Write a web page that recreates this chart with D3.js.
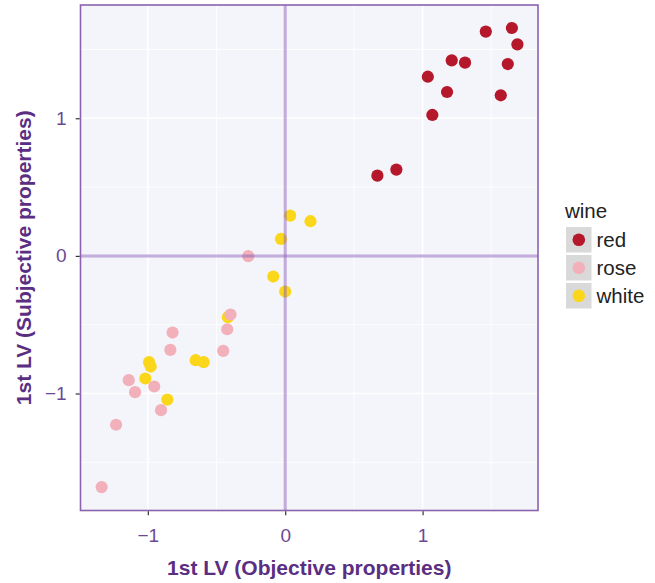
<!DOCTYPE html>
<html><head><meta charset="utf-8">
<script src="https://cdn.jsdelivr.net/npm/d3@7"></script>
<style>body{margin:0;background:#fff}svg{display:block}</style>
</head><body>
<svg id="c" width="655" height="583"></svg>
<script>
const wineTypes = ["red", "rose", "white"];
const wineColors = ["#b5172b", "#f2b0bb", "#fbd71c"];
const redX = [1.46, 1.65, 1.69, 1.212, 1.309, 1.62, 1.038, 1.178, 1.569, 1.071, 0.671, 0.809];
const redY = [1.63, 1.656, 1.537, 1.421, 1.404, 1.394, 1.302, 1.191, 1.167, 1.024, 0.583, 0.627];
const roseX = [-0.269, -0.398, -0.422, -0.820, -0.836, -0.451, -1.139, -0.953, -1.093, -0.904, -1.231, -1.336];
const roseY = [-0.002, -0.426, -0.533, -0.557, -0.683, -0.690, -0.903, -0.949, -0.990, -1.121, -1.227, -1.680];
const whiteX = [0.036, 0.184, -0.031, -0.087, 0.0, -0.417, -0.652, -0.594, -0.991, -0.979, -1.018, -0.858];
const whiteY = [0.293, 0.252, 0.123, -0.150, -0.259, -0.445, -0.758, -0.772, -0.772, -0.804, -0.891, -1.044];
const xTicks = [-1, 0, 1];
const yTicks = [-1, 0, 1];
const xMinor = [-0.5, 0.5, 1.5];
const yMinor = [-1.5, -0.5, 0.5, 1.5];
const xTitle = "1st LV (Objective properties)";
const yTitle = "1st LV (Subjective properties)";
const legendTitle = "wine";

const FONT = "Liberation Sans, Arial, sans-serif";
const svg = d3.select("#c");
const L = 80.5, R = 538, T = 5, B = 510.5;
const x = d3.scaleLinear().domain([-1.49, 1.84]).range([L, R]);
const y = d3.scaleLinear().domain([-1.85, 1.823]).range([B, T]);

svg.append("rect").attr("x", L).attr("y", T).attr("width", R - L).attr("height", B - T).attr("fill", "#f4f5fa");
const g = svg.append("g");
xMinor.forEach(v => g.append("line").attr("x1", x(v)).attr("x2", x(v)).attr("y1", T).attr("y2", B).attr("stroke", "#fff").attr("stroke-width", 0.8));
yMinor.forEach(v => g.append("line").attr("y1", y(v)).attr("y2", y(v)).attr("x1", L).attr("x2", R).attr("stroke", "#fff").attr("stroke-width", 0.8));
xTicks.forEach(v => g.append("line").attr("x1", x(v)).attr("x2", x(v)).attr("y1", T).attr("y2", B).attr("stroke", "#fff").attr("stroke-width", 1.6));
yTicks.forEach(v => g.append("line").attr("y1", y(v)).attr("y2", y(v)).attr("x1", L).attr("x2", R).attr("stroke", "#fff").attr("stroke-width", 1.6));

const series = [
  {name: "red", xs: redX, ys: redY},
  {name: "rose", xs: roseX, ys: roseY},
  {name: "white", xs: whiteX, ys: whiteY}
];
const color = d3.scaleOrdinal().domain(wineTypes).range(wineColors);
[series[2], series[1], series[0]].forEach(s => {
  s.xs.forEach((xv, i) => {
    svg.append("circle").attr("cx", x(xv)).attr("cy", y(s.ys[i])).attr("r", 6.1).attr("fill", color(s.name));
  });
});

svg.append("line").attr("x1", x(0)).attr("x2", x(0)).attr("y1", T).attr("y2", B).attr("stroke", "#8a5cb8").attr("stroke-opacity", 0.5).attr("stroke-width", 3);
svg.append("line").attr("y1", y(0)).attr("y2", y(0)).attr("x1", L).attr("x2", R).attr("stroke", "#8a5cb8").attr("stroke-opacity", 0.5).attr("stroke-width", 3);

svg.append("rect").attr("x", L).attr("y", T).attr("width", R - L).attr("height", B - T).attr("fill", "none").attr("stroke", "#8a62ad").attr("stroke-width", 1.6);

const fmt = d => d < 0 ? "\u2212" + Math.abs(d) : String(d);
const xAxis = d3.axisBottom(x).tickValues(xTicks).tickSize(4).tickPadding(13).tickFormat(fmt);
const yAxis = d3.axisLeft(y).tickValues(yTicks).tickSize(4).tickPadding(9).tickFormat(fmt);
const gx = svg.append("g").attr("transform", `translate(0,${B + 0.8})`).call(xAxis);
const gy = svg.append("g").attr("transform", `translate(${L - 0.8},0)`).call(yAxis);
[gx, gy].forEach(a => {
  a.select(".domain").remove();
  a.selectAll(".tick line").attr("stroke", "#333").attr("stroke-width", 1.2);
  a.selectAll("text").attr("fill", "#6b4897").attr("font-family", FONT).attr("font-size", 19);
});

svg.append("text").attr("x", (L + R) / 2).attr("y", 575).attr("text-anchor", "middle")
  .attr("font-family", FONT).attr("font-weight", "bold").attr("font-size", 21)
  .attr("fill", "#5a2e83").text(xTitle);
svg.append("text").attr("transform", `translate(31,${(T + B) / 2}) rotate(-90)`).attr("text-anchor", "middle")
  .attr("font-family", FONT).attr("font-weight", "bold").attr("font-size", 21)
  .attr("fill", "#5a2e83").text(yTitle);

const lg = svg.append("g");
lg.append("text").attr("x", 565).attr("y", 218).attr("font-family", FONT).attr("font-size", 20.5).attr("fill", "#222").text(legendTitle);
wineTypes.forEach((w, i) => {
  const yy = 227 + i * 28;
  lg.append("rect").attr("x", 566).attr("y", yy).attr("width", 25.5).attr("height", 25.5).attr("fill", "#d9d9d9");
  lg.append("circle").attr("cx", 578.8).attr("cy", yy + 12.8).attr("r", 6.3).attr("fill", color(w));
  lg.append("text").attr("x", 596.5).attr("y", yy + 20).attr("font-family", FONT).attr("font-size", 20.5).attr("fill", "#222").text(w);
});
</script>
</body></html>
